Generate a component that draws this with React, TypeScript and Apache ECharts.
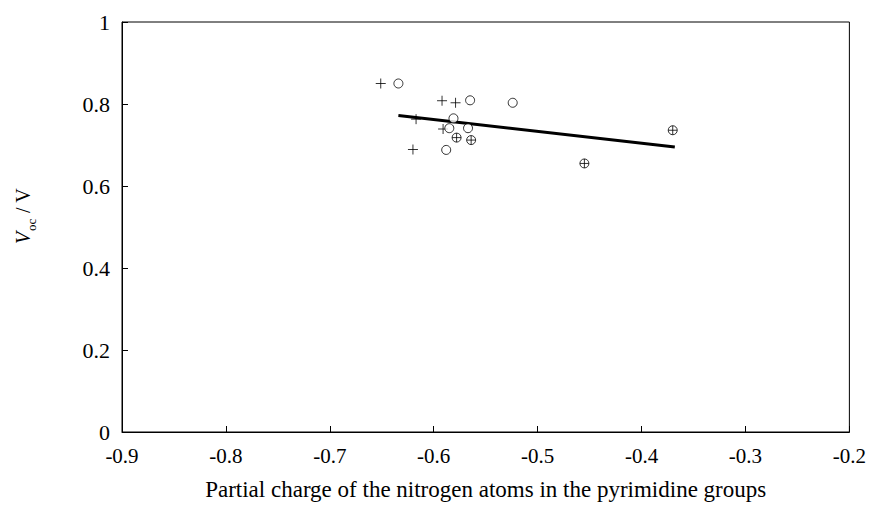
import React, { useEffect, useRef } from "react";
import * as echarts from "echarts";

const plusPoints: [number, number][] = [
  [-0.651, 0.85],
  [-0.592, 0.808],
  [-0.579, 0.803],
  [-0.617, 0.763],
  [-0.591, 0.739],
  [-0.62, 0.689],
];
const circlePoints: [number, number][] = [
  [-0.634, 0.85],
  [-0.565, 0.809],
  [-0.524, 0.803],
  [-0.581, 0.765],
  [-0.585, 0.741],
  [-0.567, 0.741],
  [-0.588, 0.688],
];
const circlePlusPoints: [number, number][] = [
  [-0.578, 0.718],
  [-0.564, 0.712],
  [-0.455, 0.655],
  [-0.37, 0.736],
];
const fitLine: [number, number][] = [
  [-0.634, 0.772],
  [-0.368, 0.695],
];

const FONT = "'Liberation Serif', 'Times New Roman', serif";

export default function App() {
  const ref = useRef<HTMLDivElement>(null);
  useEffect(() => {
    if (!ref.current) return;
    const chart = echarts.init(ref.current, null, { renderer: "svg" });
    chart.setOption({
      animation: false,
      backgroundColor: "#fff",
      grid: {
        left: 122,
        right: 17,
        top: 22,
        bottom: 71,
        show: true,
        borderColor: "#000",
        borderWidth: 1,
      },
      xAxis: {
        type: "value",
        min: -0.9,
        max: -0.2,
        interval: 0.1,
        axisLine: { lineStyle: { color: "#000", width: 1 } },
        axisTick: { inside: true, length: 6, lineStyle: { color: "#000" } },
        splitLine: { show: false },
        axisLabel: {
          color: "#000",
          fontFamily: FONT,
          fontSize: 21,
          margin: 13,
          formatter: (v: number) => (Math.round(v * 10) / 10).toString(),
        },
        name: "Partial charge of the nitrogen atoms in the pyrimidine groups",
        nameLocation: "middle",
        nameGap: 46,
        nameTextStyle: { color: "#000", fontFamily: FONT, fontSize: 23 },
      },
      yAxis: {
        type: "value",
        min: 0,
        max: 1,
        interval: 0.2,
        axisLine: { show: true, lineStyle: { color: "#000", width: 1 } },
        axisTick: { show: true, inside: true, length: 6, lineStyle: { color: "#000" } },
        splitLine: { show: false },
        axisLabel: {
          color: "#000",
          fontFamily: FONT,
          fontSize: 22,
          margin: 12,
          formatter: (v: number) => (Math.round(v * 10) / 10).toString(),
        },
      },
      graphic: [
        {
          type: "group",
          x: 33,
          y: 244,
          rotation: Math.PI / 2,
          children: [
            {
              type: "text",
              x: 0,
              y: 0,
              style: {
                text: "V",
                font: `italic 20px ${FONT}`,
                fill: "#000",
                verticalAlign: "bottom",
              },
            },
            {
              type: "text",
              x: 13,
              y: 5,
              style: {
                text: "oc",
                font: `13px ${FONT}`,
                fill: "#000",
                verticalAlign: "bottom",
              },
            },
            {
              type: "text",
              x: 26,
              y: 0,
              style: {
                text: " / V",
                font: `20px ${FONT}`,
                fill: "#000",
                verticalAlign: "bottom",
              },
            },
          ],
        },
      ],
      series: [
        {
          type: "line",
          data: fitLine,
          symbol: "none",
          lineStyle: { color: "#000", width: 3 },
          z: 1,
        },
        {
          type: "scatter",
          data: plusPoints,
          symbol: "path://M0,-5L0,5M-5,0L5,0",
          symbolSize: 10,
          itemStyle: { color: "none", borderColor: "#000", borderWidth: 1 },
          z: 3,
        },
        {
          type: "scatter",
          data: circlePoints,
          symbol: "circle",
          symbolSize: 9,
          itemStyle: { color: "#fff", borderColor: "#000", borderWidth: 1 },
          z: 3,
        },
        {
          type: "scatter",
          data: circlePlusPoints,
          symbol:
            "path://M-4,0A4,4 0 1,0 4,0A4,4 0 1,0 -4,0ZM-4,0L4,0M0,-4L0,4",
          symbolSize: 9,
          itemStyle: { color: "#fff", borderColor: "#000", borderWidth: 1 },
          z: 3,
        },
      ],
    });
    return () => chart.dispose();
  }, []);
  return <div ref={ref} style={{ width: 869, height: 506, position: "absolute", left: 0, top: 0 }} />;
}
